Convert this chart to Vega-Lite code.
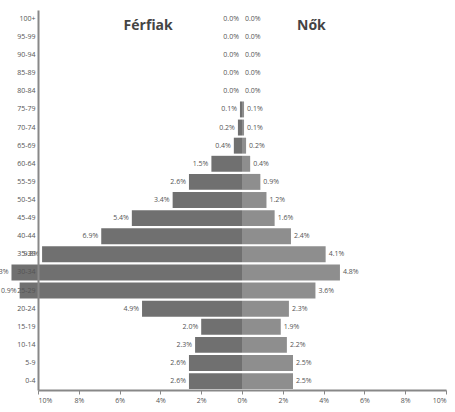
{
  "$schema": "https://vega.github.io/schema/vega-lite/v6.json",
  "width": 408,
  "height": 380,
  "autosize": {"type": "none"},
  "padding": {"left": 38, "top": 10, "right": 9, "bottom": 22},
  "background": "white",
  "config": {"view": {"stroke": null}, "font": "Open Sans"},
  "data": {
    "values": [
      {"age": "100+", "sex": "Férfiak", "pct": 0.0}, {"age": "100+", "sex": "Nők", "pct": 0.0},
      {"age": "95-99", "sex": "Férfiak", "pct": 0.0}, {"age": "95-99", "sex": "Nők", "pct": 0.0},
      {"age": "90-94", "sex": "Férfiak", "pct": 0.0}, {"age": "90-94", "sex": "Nők", "pct": 0.0},
      {"age": "85-89", "sex": "Férfiak", "pct": 0.0}, {"age": "85-89", "sex": "Nők", "pct": 0.0},
      {"age": "80-84", "sex": "Férfiak", "pct": 0.0}, {"age": "80-84", "sex": "Nők", "pct": 0.0},
      {"age": "75-79", "sex": "Férfiak", "pct": 0.1}, {"age": "75-79", "sex": "Nők", "pct": 0.1},
      {"age": "70-74", "sex": "Férfiak", "pct": 0.2}, {"age": "70-74", "sex": "Nők", "pct": 0.1},
      {"age": "65-69", "sex": "Férfiak", "pct": 0.4}, {"age": "65-69", "sex": "Nők", "pct": 0.2},
      {"age": "60-64", "sex": "Férfiak", "pct": 1.5}, {"age": "60-64", "sex": "Nők", "pct": 0.4},
      {"age": "55-59", "sex": "Férfiak", "pct": 2.6}, {"age": "55-59", "sex": "Nők", "pct": 0.9},
      {"age": "50-54", "sex": "Férfiak", "pct": 3.4}, {"age": "50-54", "sex": "Nők", "pct": 1.2},
      {"age": "45-49", "sex": "Férfiak", "pct": 5.4}, {"age": "45-49", "sex": "Nők", "pct": 1.6},
      {"age": "40-44", "sex": "Férfiak", "pct": 6.9}, {"age": "40-44", "sex": "Nők", "pct": 2.4},
      {"age": "35-39", "sex": "Férfiak", "pct": 9.8}, {"age": "35-39", "sex": "Nők", "pct": 4.1},
      {"age": "30-34", "sex": "Férfiak", "pct": 11.3}, {"age": "30-34", "sex": "Nők", "pct": 4.8},
      {"age": "25-29", "sex": "Férfiak", "pct": 10.9}, {"age": "25-29", "sex": "Nők", "pct": 3.6},
      {"age": "20-24", "sex": "Férfiak", "pct": 4.9}, {"age": "20-24", "sex": "Nők", "pct": 2.3},
      {"age": "15-19", "sex": "Férfiak", "pct": 2.0}, {"age": "15-19", "sex": "Nők", "pct": 1.9},
      {"age": "10-14", "sex": "Férfiak", "pct": 2.3}, {"age": "10-14", "sex": "Nők", "pct": 2.2},
      {"age": "5-9", "sex": "Férfiak", "pct": 2.6}, {"age": "5-9", "sex": "Nők", "pct": 2.5},
      {"age": "0-4", "sex": "Férfiak", "pct": 2.6}, {"age": "0-4", "sex": "Nők", "pct": 2.5}
    ]
  },
  "transform": [
    {"calculate": "datum.sex === 'Férfiak' ? -datum.pct : datum.pct", "as": "signed"},
    {"calculate": "format(datum.pct, '.1f') + '%'", "as": "label"}
  ],
  "encoding": {
    "y": {
      "field": "age", "type": "nominal", "sort": null,
      "scale": {"paddingInner": 0.12, "paddingOuter": 0.05},
      "axis": {
        "title": null, "ticks": false, "labelFontSize": 7, "labelColor": "#555",
        "labelPadding": 3, "domainColor": "#888", "domainWidth": 2, "zindex": 1
      }
    }
  },
  "layer": [
    {
      "transform": [{"filter": "datum.sex === 'Férfiak'"}],
      "mark": {"type": "text", "align": "right", "dx": -3, "fontSize": 7, "color": "#555", "clip": false},
      "encoding": {
        "x": {"field": "signed", "type": "quantitative"},
        "text": {"field": "label"}
      }
    },
    {
      "transform": [{"filter": "datum.sex === 'Nők'"}],
      "mark": {"type": "text", "align": "left", "dx": 3, "fontSize": 7, "color": "#555", "clip": false},
      "encoding": {
        "x": {"field": "signed", "type": "quantitative"},
        "text": {"field": "label"}
      }
    },
    {
      "mark": {"type": "bar", "clip": false},
      "encoding": {
        "x": {
          "field": "signed", "type": "quantitative", "stack": null,
          "scale": {"domain": [-10, 10], "nice": false, "zero": false},
          "axis": {
            "title": null, "grid": false, "values": [-10, -8, -6, -4, -2, 0, 2, 4, 6, 8, 10],
            "labelExpr": "abs(datum.value) + '%'", "labelFontSize": 7, "labelColor": "#555",
            "tickColor": "#888", "tickSize": 4, "domainColor": "#888", "domainWidth": 2, "labelPadding": 2
          }
        },
        "color": {
          "field": "sex", "type": "nominal", "legend": null,
          "scale": {"domain": ["Férfiak", "Nők"], "range": ["#707070", "#8e8e8e"]}
        }
      }
    },
    {
      "data": {"values": [{"t": "Férfiak", "px": -4.6, "age": "100+"}, {"t": "Nők", "px": 3.4, "age": "100+"}]},
      "transform": [],
      "mark": {"type": "text", "fontSize": 14, "fontWeight": "bold", "color": "#444", "dy": 7},
      "encoding": {
        "x": {"field": "px", "type": "quantitative"},
        "y": {"field": "age", "type": "nominal", "sort": null},
        "text": {"field": "t"}
      }
    }
  ]
}
